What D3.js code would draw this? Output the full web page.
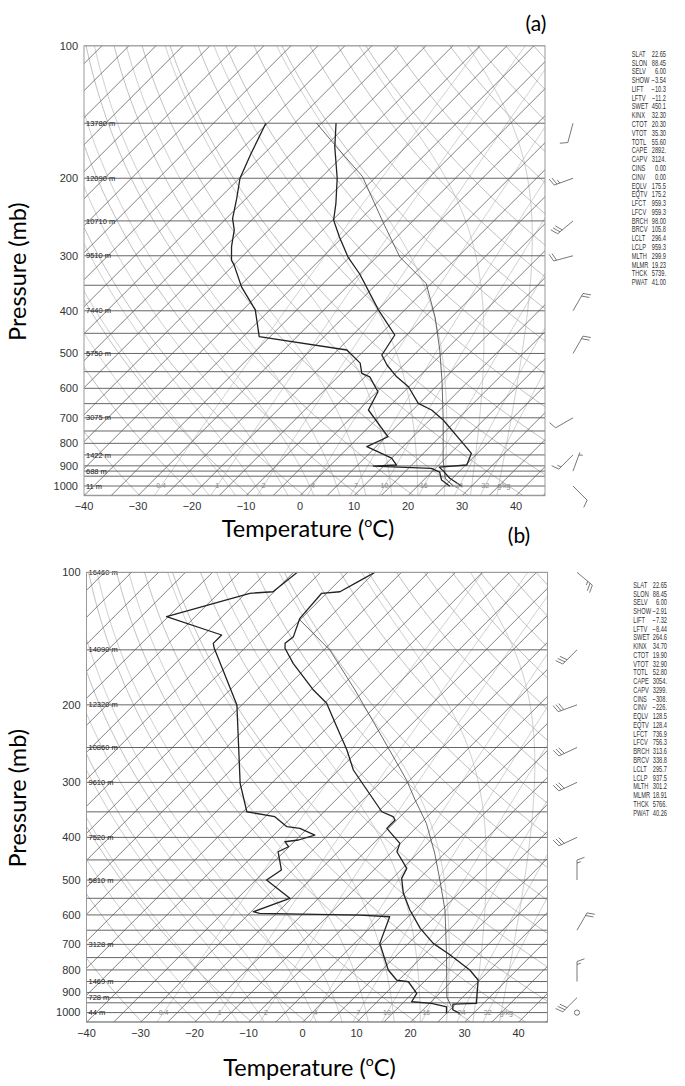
<!DOCTYPE html>
<html><head><meta charset="utf-8">
<script src="https://cdn.jsdelivr.net/npm/d3@7"></script>
<style>body{margin:0;background:#fff}</style></head>
<body><svg id="c" width="685" height="1086" xmlns="http://www.w3.org/2000/svg"></svg>
<script>
// ---------------- DATA ----------------
const tempTicks=[-40,-30,-20,-10,0,10,20,30,40];
const presTicks=[100,200,300,400,500,600,700,800,900,1000];
const isobarLevels=[100,150,200,250,300,350,400,450,500,550,600,650,700,750,800,850,900,925,950,1000,1050];
const mixRatios=[0.4,1,2,4,7,10,16,24,32];
const dryThetas=[230,240,250,260,270,280,290,300,310,320,330,340,350,360,370,380,390,400,410,420,430,440,450,460];
const moistThetaW=[-20,-15,-10,-5,0,5,10,15,20,25,30,35];

const statNames=["SLAT","SLON","SELV","SHOW","LIFT","LFTV","SWET","KINX","CTOT","VTOT","TOTL","CAPE","CAPV","CINS","CINV","EQLV","EQTV","LFCT","LFCV","BRCH","BRCV","LCLT","LCLP","MLTH","MLMR","THCK","PWAT"];
const statValsA=["22.65","88.45","6.00","\u22123.54","\u221210.3","\u221211.2","450.1","32.30","20.30","35.30","55.60","2892.","3124.","0.00","0.00","175.5","175.2","959.3","959.3","98.00","105.8","296.4","959.3","299.9","19.23","5739.","41.00"];
const statValsB=["22.65","88.45","6.00","\u22122.91","\u22127.32","\u22128.44","264.6","34.70","19.90","32.90","52.80","3054.","3299.","\u2212308.","\u2212226.","128.5","128.4","736.9","756.3","313.6","338.8","295.7","937.5","301.2","18.91","5766.","40.26"];

const heightPresA=[150,200,250,300,400,500,700,850,925,1000];
const heightLabA=["13780 m","12090 m","10710 m","9510 m","7440 m","5750 m","3075 m","1422 m","688 m","11 m"];
const heightPresB=[100,150,200,250,300,400,500,700,850,925,1000];
const heightLabB=["16460 m","14090 m","12320 m","10860 m","9610 m","7520 m","5810 m","3128 m","1469 m","728 m","44 m"];

// Sounding (a)
const presA_T=[150,170,200,228,249,272,302,330,398,454,504,531,565,595,649,672,708,800,843,896,906,925,960,1001];
const tempA=[-62.3,-58.1,-51.9,-47.5,-44.8,-40.6,-35.3,-30.0,-19.9,-12.2,-10.9,-8.1,-4.1,-0.1,4.8,8.5,12.5,20.5,23.9,25.2,20.5,22.0,24.5,28.2];
const presA_Td=[150,176,200,222,247,262,286,307,315,353,398,458,491,526,555,565,611,672,773,814,864,896,901,912,930,969,1001];
const dewA=[-75.3,-72.4,-69.9,-66.8,-63.8,-61.4,-58.8,-56.3,-54.9,-49.5,-42.7,-37.0,-18.3,-13.4,-11.2,-9.1,-4.8,-3.2,5.4,3.3,10.0,12.2,8.1,19.3,21.5,23.3,26.0];
const presA_P=[150,173,198,253,302,347,413,491,575,708,873,959,1001];
const parcelA=[-65.9,-56.6,-47.6,-35.0,-25.7,-15.9,-8.1,-1.1,4.9,12.5,19.9,23.6,26.6];

// Sounding (b)
const presB_T=[100,105,110.7,111.6,127.2,140,145,148.8,161,185.1,198.4,224.2,253.3,281.2,296.3,349.8,359,365.3,381.5,412.7,431.2,470.3,495.5,536,584.9,643.6,696.2,740.1,800.4,843.4,952.8,957,985,1004];
const tempB=[-69.9,-71.3,-72.8,-75.9,-75.3,-73.1,-73.4,-72.5,-68.2,-59.5,-54.6,-48.4,-42.2,-37.3,-34.2,-24.3,-21.3,-20.3,-20.3,-15.1,-14.1,-9.2,-8.3,-5.2,-0.9,4.4,9.6,14.9,21.3,24.7,28.7,24.5,25.5,27.5];
const presB_Td=[100,110.7,111.6,126.1,138.8,145,148.8,200.2,301.5,349.8,359,378.3,381.5,395.1,405.5,409.2,420,431.2,474.5,500,550.2,590.1,595.1,600.4,605.8,696.2,800.4,843.4,851,904.3,944.8,952.8,969.9,1004];
const dewB=[-84.3,-85.2,-89.2,-100.3,-86.7,-86.7,-85.6,-70.9,-55.8,-49.3,-43.2,-39.1,-36.4,-32.4,-34.5,-36.7,-35.1,-36.1,-32.1,-33.0,-25.3,-29.6,-28.1,-9.2,-3.4,-0.3,6.2,9.6,12.1,15.8,16.4,20.4,23.8,25.0];
const presB_P=[128.3,150.1,185.1,222.2,266.9,296.3,329,371.7,434.8,500,584.9,733.5,920.5,969.9];
const parcelB=[-75,-63.9,-51.8,-41.6,-31.4,-25.6,-20.3,-13.9,-6.8,-0.9,5.6,13.9,22.0,24.7];

// Wind barbs (pressure, direction deg, speed kt)
const barbPresA=[150,200,250,300,400,500,700,850,925,1000];
const barbDirA=[195,250,230,255,30,30,240,225,20,135];
const barbSpdA=[10,25,30,20,20,20,10,15,5,10];
const barbPresB=[100,150,200,250,300,400,500,650,850,925,1000];
const barbDirB=[130,225,250,245,245,245,0,30,0,225,0];
const barbSpdB=[25,30,30,30,30,30,15,20,15,30,0];

// ---------------- DRAWING ----------------
const svg=d3.select('#c');
const W=461,H=450;
const FONT="'Liberation Sans', Arial, sans-serif";
const TF="Lato, 'Open Sans', sans-serif";

function es(tc){return 6.112*Math.exp(17.67*tc/(tc+243.5));}
function tdFromW(w,p){const r=w/1000;const e=r*p/(0.622+r);const l=Math.log(e/6.112);return 243.5*l/(17.67-l);}

function moistPath(thw){
  const Rd=287.04,Cp=1005.7,Lv=2.501e6,eps=0.622;
  function dTdlnp(T,p){const tc=T-273.15;const e=es(tc);const rs=eps*e/(p-e);
    return (Rd*T+Lv*rs)/(Cp+Lv*Lv*rs*eps/(Rd*T*T));}
  const pts=[];
  let T=thw+273.15,lp=Math.log(1000);
  const down=[];let Td=T,lpd=lp;
  while(Math.exp(lpd)<1052){const h=0.004;Td+=dTdlnp(Td,Math.exp(lpd))*h;lpd+=h;down.push([Math.exp(lpd),Td-273.15]);}
  down.reverse().forEach(d=>pts.push(d));
  pts.push([1000,T-273.15]);
  while(Math.exp(lp)>100){const h=-0.004;
    const k1=dTdlnp(T,Math.exp(lp));const k2=dTdlnp(T+k1*h/2,Math.exp(lp+h/2));
    T+=k2*h;lp+=h;pts.push([Math.exp(lp),T-273.15]);}
  return pts;
}

function drawBarb(g,bx,by,dir,spd){
  if(spd===0){g.append('circle').attr('cx',bx).attr('cy',by).attr('r',2.6).attr('fill','none').attr('stroke','#555').attr('stroke-width',0.8);return;}
  const L=20,r=dir*Math.PI/180;const ux=Math.sin(r),uy=-Math.cos(r);
  const tx=bx+ux*L,ty=by+uy*L;
  const fr=(dir+70)*Math.PI/180;const fx=Math.sin(fr),fy=-Math.cos(fr);
  let d=`M${bx},${by}L${tx},${ty}`;
  let s=spd,pos=0;
  while(s>=10){const sx=tx-ux*pos,sy=ty-uy*pos;d+=`M${sx},${sy}l${fx*8},${fy*8}`;pos+=3;s-=10;}
  if(s>=5){if(pos===0)pos=3;const sx=tx-ux*pos,sy=ty-uy*pos;d+=`M${sx},${sy}l${fx*4},${fy*4}`;}
  g.append('path').attr('d',d).attr('fill','none').attr('stroke','#555').attr('stroke-width',0.8);
}

function drawPanel(o){
  const g=svg.append('g').attr('transform',`translate(${o.left},${o.top})`);
  const x=d3.scaleLinear().domain([-40,-40+W/5.4]).range([0,W]);
  const y=d3.scaleLog().domain([100,1052]).range([0,H]);
  const X=(T,p)=>x(T)+(H-y(p));
  const defs=svg.append('defs');
  defs.append('clipPath').attr('id',o.id).append('rect').attr('width',W).attr('height',H);
  const inner=g.append('g').attr('clip-path',`url(#${o.id})`);
  const line=d3.line().x(d=>X(d[1],d[0])).y(d=>y(d[0]));
  const logP=d3.range(Math.log(1052),Math.log(99),-0.02).map(Math.exp);

  mixRatios.forEach(w=>{
    inner.append('path').attr('d',line(logP.map(p=>[p,tdFromW(w,p)]))).attr('fill','none').attr('stroke','#c4c4c4').attr('stroke-width',0.8);
  });
  dryThetas.forEach(th=>{
    inner.append('path').attr('d',line(logP.map(p=>[p,th*Math.pow(p/1000,0.2857)-273.15]))).attr('fill','none').attr('stroke','#b0b0b0').attr('stroke-width',0.8);
  });
  moistThetaW.forEach(tw=>{
    inner.append('path').attr('d',line(moistPath(tw))).attr('fill','none').attr('stroke','#bdbdbd').attr('stroke-width',0.8);
  });
  d3.range(-130,50,5).forEach(T=>{
    inner.append('line').attr('x1',X(T,1052)).attr('y1',y(1052)).attr('x2',X(T,100)).attr('y2',y(100)).attr('stroke','#555').attr('stroke-width',0.75);
  });
  isobarLevels.forEach(p=>{
    inner.append('line').attr('x1',0).attr('x2',W).attr('y1',y(p)).attr('y2',y(p)).attr('stroke','#555').attr('stroke-width',0.9);
  });
  mixRatios.forEach((w,i)=>{
    const last=i===mixRatios.length-1;
    g.append('text').attr('x',X(tdFromW(w,1000),1000)).attr('y',y(1000)+2.5).attr('text-anchor','middle')
      .attr('font-family',FONT).attr('font-size',7).attr('fill','#8a8a8a').text(w);
    if(last) g.append('text').attr('x',X(tdFromW(w,1000),1000)+12).attr('y',y(1000)+2.5)
      .attr('font-family',FONT).attr('font-size',7).attr('fill','#8a8a8a').text('g/kg');
  });
  o.hp.forEach((p,i)=>{
    g.append('text').attr('x',2).attr('y',y(p)+2.6).attr('font-family',FONT).attr('font-size',7.5).attr('fill','#222').text(o.hl[i]);
  });
  const tr=(P,V,w,c)=>inner.append('path').attr('d',line(P.map((p,i)=>[p,V[i]]))).attr('fill','none').attr('stroke',c).attr('stroke-width',w).attr('stroke-linejoin','round');
  tr(o.pp,o.pv,0.8,'#444');
  tr(o.dp,o.dv,1.3,'#222');
  tr(o.tp,o.tv,1.3,'#222');
  g.append('rect').attr('width',W).attr('height',H).attr('fill','none').attr('stroke','#999').attr('stroke-width',1);
  tempTicks.forEach(t=>{
    g.append('text').attr('x',x(t)).attr('y',H+14.5).attr('text-anchor','middle').attr('font-family',FONT).attr('font-size',11).attr('fill','#333').text(t<0?'\u2212'+(-t):t);
  });
  presTicks.forEach(p=>{
    g.append('text').attr('x',-6).attr('y',y(p)+3.8).attr('text-anchor','end').attr('font-family',FONT).attr('font-size',11).attr('fill','#333').text(p);
  });
  const bg=g.append('g');
  o.bp.forEach((p,i)=>drawBarb(bg,o.bx-o.left,y(p),o.bd[i],o.bs[i]));
  statNames.forEach((n,i)=>{
    const yy=o.sy+i*o.ss;
    svg.append('text').attr('transform',`translate(${o.sx},${yy}) scale(0.68,1)`).attr('font-family',FONT).attr('font-size',8.4).attr('fill','#333').text(n);
    svg.append('text').attr('transform',`translate(${o.sx2},${yy}) scale(0.68,1)`).attr('text-anchor','end').attr('font-family',FONT).attr('font-size',8.4).attr('fill','#333').text(o.sv[i]);
  });
  const fs=23.5;
  const tt=svg.append('text').attr('x',o.left+o.tcx).attr('y',o.top+o.tby).attr('text-anchor','middle').attr('font-family',TF).attr('font-size',fs).attr('fill','#000');
  tt.append('tspan').text('Temperature (');
  tt.append('tspan').attr('font-size',fs*0.6).attr('dy',-fs*0.42).text('o');
  tt.append('tspan').attr('dy',fs*0.42).text('C)');
  svg.append('text').attr('transform',`translate(26,${o.top+226}) rotate(-90)`).attr('text-anchor','middle').attr('font-family',TF).attr('font-size',fs).attr('fill','#000').text('Pressure (mb)');
  svg.append('text').attr('x',o.lx).attr('y',o.ly).attr('text-anchor','middle').attr('font-family',TF).attr('font-size',21).attr('fill','#000').text(o.lab);
}

drawPanel({id:'cpa',left:84,top:45.7,hp:heightPresA,hl:heightLabA,tp:presA_T,tv:tempA,dp:presA_Td,dv:dewA,pp:presA_P,pv:parcelA,
  bp:barbPresA,bd:barbDirA,bs:barbSpdA,bx:573,sv:statValsA,sx:631.7,sx2:666,sy:56.8,ss:8.78,tcx:224,tby:491,lx:536,ly:31,lab:'(a)'});
drawPanel({id:'cpb',left:86.5,top:572.3,hp:heightPresB,hl:heightLabB,tp:presB_T,tv:tempB,dp:presB_Td,dv:dewB,pp:presB_P,pv:parcelB,
  bp:barbPresB,bd:barbDirB,bs:barbSpdB,bx:577,sv:statValsB,sx:633.3,sx2:667,sy:587.8,ss:8.76,tcx:223,tby:504,lx:519,ly:543,lab:'(b)'});
</script></body></html>
